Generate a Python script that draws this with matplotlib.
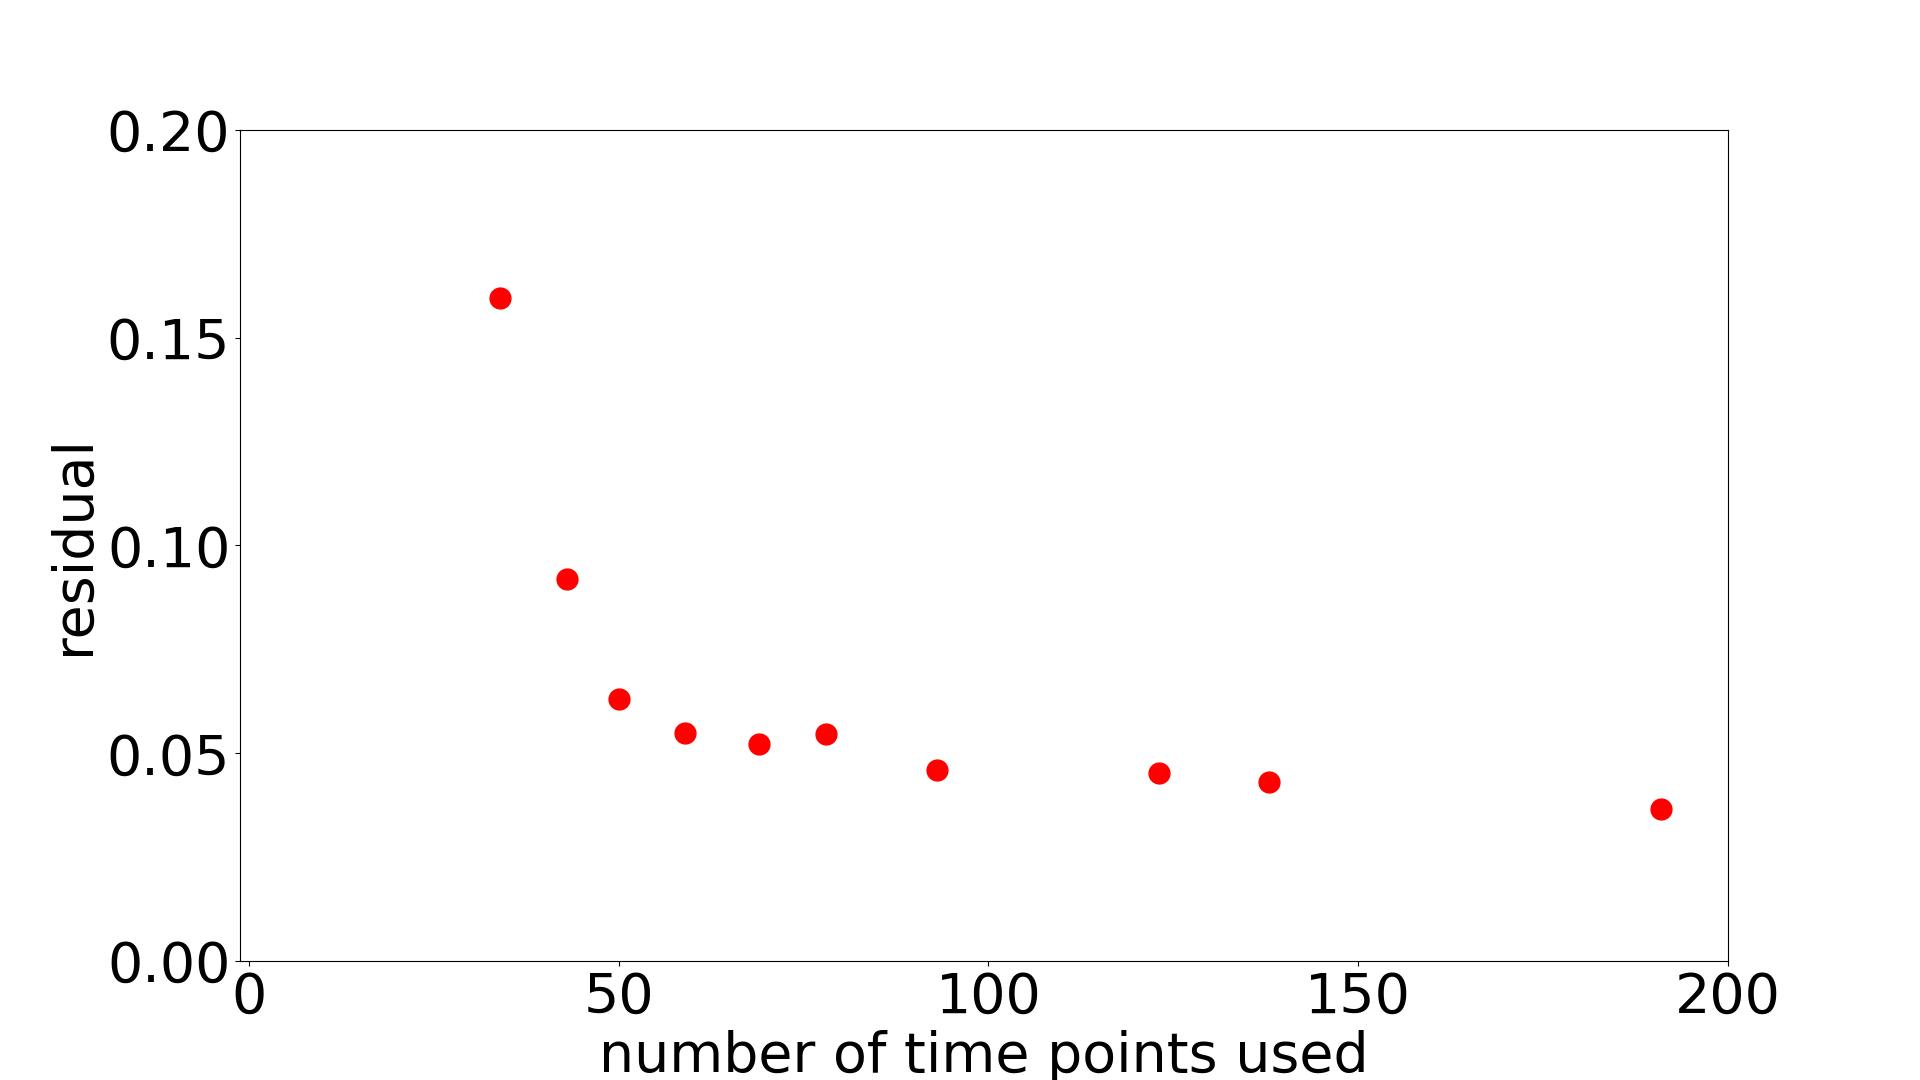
import numpy as np
import matplotlib
matplotlib.use("Agg")
import matplotlib.pyplot as plt

# number of time points used vs residual
n_points = [34, 43, 50, 59, 69, 78, 93, 123, 138, 191]
residual = [0.1596, 0.0918, 0.0630, 0.0550, 0.0522, 0.0546, 0.0459, 0.0452, 0.0430, 0.0365]

plt.rcParams['font.size'] = 40

fig = plt.figure(figsize=(19.2, 10.8), dpi=100)
ax = fig.add_subplot(111)
ax.plot(n_points, residual, 'o', color='red', markersize=15)
ax.set_xlim(-1.2, 200)
ax.set_ylim(0, 0.2)
ax.set_yticks([0.0, 0.05, 0.10, 0.15, 0.20])
ax.set_yticklabels(['0.00', '0.05', '0.10', '0.15', '0.20'])
ax.set_xlabel('number of time points used')
ax.set_ylabel('residual')

fig.savefig('out.png', dpi=100)
